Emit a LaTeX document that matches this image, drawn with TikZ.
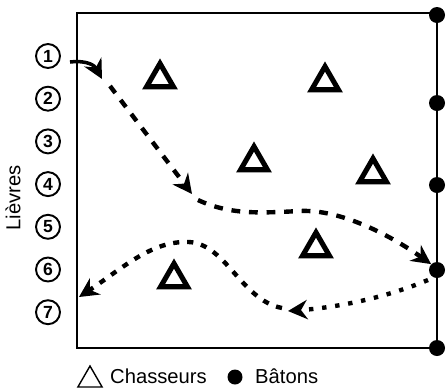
\documentclass[tikz,border=0pt]{standalone}
\usepackage{fontspec}
\setmainfont{Liberation Sans}
\usetikzlibrary{arrows.meta,shapes.geometric,positioning}

\tikzset{
  lievre/.style={circle,draw,line width=1.1pt,inner sep=0pt,minimum size=0.48cm,
    font=\bfseries\fontsize{10}{10}\selectfont},
  chasseur/.style={regular polygon,regular polygon sides=3,draw,line width=2.9pt,
    inner sep=0pt,minimum size=0.62cm},
  baton/.style={circle,fill,inner sep=0pt,minimum size=0.32cm},
  trace/.style={line width=2.5pt,-{Stealth[length=11pt,width=11pt]}},
}

\begin{document}
\begin{tikzpicture}[x=0.02cm,y=-0.02cm]
        \useasboundingbox (0,0) rectangle (446,390);
        % Field
        \draw[line width=1.5pt] (77,13) rectangle (437,348);
        % Batons on the right side
        \foreach \y/\n in {15/1,103/2,185/3,270/4,348/5}
          \node[baton] (b\n) at (437,\y) {};
        % Lievres
        \foreach \i in {1,...,7}
          \node[lievre] (l\i) at (48,{56+42.7*(\i-1)}) {\i};
        \node[rotate=90,font=\fontsize{11.5}{13}\selectfont] (titre) at (13,198) {Lièvres};
        % Chasseurs
        \node[chasseur] (c1) at (160,79) {};
        \node[chasseur] (c2) at (325,82) {};
        \node[chasseur] (c3) at (254,162) {};
        \node[chasseur] (c4) at (373,174) {};
        \node[chasseur] (c5) at (316,248) {};
        \node[chasseur] (c6) at (174,279) {};
        % Way of the hare
        \coordinate (p0) at (70,62);
        \coordinate (p1) at (102,79);
        \coordinate (p2) at (110,86);
        \coordinate (p3) at (192,194);
        \coordinate (p4) at (198,200);
        \coordinate (p5) at (428,280);
        \coordinate (p6) at (288,311);
        \coordinate (p7) at (282,308);
        \coordinate (p8) at (79,297);
        \draw[trace,line width=2pt] (p0) .. controls (88,60) and (95,66) .. (p1);
        \draw[trace,dash pattern=on 5pt off 5pt] (p2) -- (p3);
        \draw[trace,dash pattern=on 5pt off 5pt] (p4) .. controls (230,215) and (260,213) .. (300,211)
          .. controls (340,209) and (390,235) .. (b4.north west);
        \draw[trace,dash pattern=on 2.5pt off 5pt] (p5) .. controls (380,300) and (330,308) .. (p6);
        \draw[trace,dash pattern=on 3.5pt off 4.5pt] (p7) .. controls (240,300) and (225,240) .. (185,242)
          .. controls (150,242) and (120,270) .. (p8);
        % Legend
        \node[chasseur,line width=0.8pt,minimum size=0.56cm] (lc) at (90,380) {};
        \node[anchor=base west,font=\fontsize{11.5}{13}\selectfont] (lct) at (104,383) {Chasseurs};
        \node[baton,minimum size=0.3cm] (lb) at (235,377) {};
        \node[anchor=base west,font=\fontsize{11.5}{13}\selectfont] (lbt) at (249,383) {Bâtons};
\end{tikzpicture}
\end{document}
